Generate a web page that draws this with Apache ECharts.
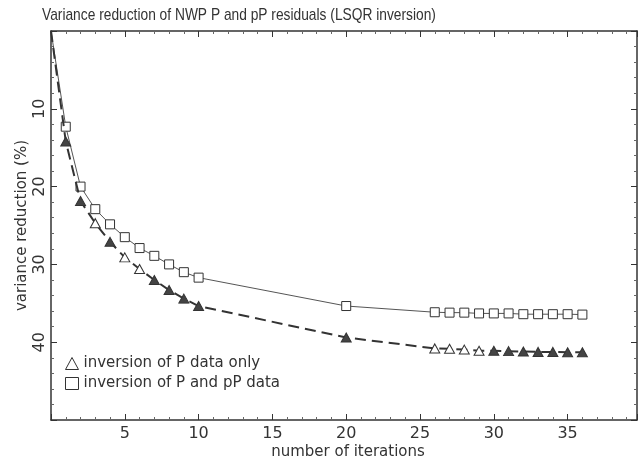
<!DOCTYPE html>
<html>
<head>
<meta charset="utf-8">
<script src="https://cdn.jsdelivr.net/npm/echarts@6/dist/echarts.min.js"></script>
<style>
html,body{margin:0;padding:0;background:#fff;}
#chart{width:638px;height:461px;}
</style>
</head>
<body>
<div id="chart"></div>
<script>
// ---- data ----
const iterations = [0, 1, 2, 3, 4, 5, 6, 7, 8, 9, 10, 20, 26, 27, 28, 29, 30, 31, 32, 33, 34, 35, 36];
const pOnly   = [0, 14.2, 21.85, 24.7, 27.1, 29.1, 30.6, 32.0, 33.3, 34.4, 35.35, 39.4, 40.8, 40.85, 40.95, 41.1, 41.1, 41.15, 41.2, 41.25, 41.25, 41.3, 41.3];
const pAndPP  = [0, 12.3, 20.0, 22.9, 24.85, 26.5, 27.9, 28.9, 30.0, 31.0, 31.7, 35.35, 36.15, 36.2, 36.2, 36.3, 36.3, 36.3, 36.4, 36.4, 36.4, 36.4, 36.45];
// triangles that look filled-in (scan artefact) in the reference
const darkTriangles = [1, 2, 4, 7, 8, 9, 10, 20, 30, 31, 32, 33, 34, 35, 36];
const seriesNames = ['inversion of P data only', 'inversion of P and pP data'];
const titleText = 'Variance reduction of NWP P and pP residuals (LSQR inversion)';
const xName = 'number of iterations';
const yName = 'variance reduction (%)';

const ink = '#333';
const font = 'DejaVu Sans, Verdana, sans-serif';
const titleFont = 'Liberation Sans, Arial, Helvetica, sans-serif';

function triData() {
  return iterations.map((x, i) => {
    const d = {value: [x, pOnly[i]]};
    if (i === 0) d.symbol = 'none';
    else if (darkTriangles.indexOf(x) >= 0) d.itemStyle = {color: '#444'};
    return d;
  });
}
function sqData() {
  return iterations.map((x, i) => {
    const d = {value: [x, pAndPP[i]]};
    if (i === 0) d.symbol = 'none';
    return d;
  });
}

const chart = echarts.init(document.getElementById('chart'), null, {renderer: 'canvas'});
const axisLine = {show: true, onZero: false, lineStyle: {color: ink, width: 1.5}};
const tick = {show: true, inside: true, length: 6, lineStyle: {color: ink}};
const minor = {show: true, splitNumber: 5, length: 3, lineStyle: {color: '#666'}};
chart.setOption({
  animation: false,
  backgroundColor: '#fff',
  textStyle: {fontFamily: font, color: ink},
  graphic: [{
    type: 'text', x: 42, y: 15, scaleX: 0.81, scaleY: 1,
    style: {text: titleText, fontFamily: titleFont, fontSize: 17, fill: ink,
            textAlign: 'left', textVerticalAlign: 'middle'}
  }],
  legend: {
    orient: 'vertical', left: 60, top: 351, itemGap: 5,
    itemWidth: 13, itemHeight: 12,
    textStyle: {fontFamily: font, fontSize: 15, color: ink},
    itemStyle: {color: '#fff', borderColor: ink, borderWidth: 1},
    lineStyle: {width: 0},
    data: [
      {name: seriesNames[0], icon: 'triangle'},
      {name: seriesNames[1], icon: 'rect'}
    ]
  },
  grid: {left: 51, top: 31, right: 1, bottom: 41, show: false, outerBoundsMode: 'none', containLabel: false},
  xAxis: [{
    type: 'value', min: 0, max: 39.7, interval: 5,
    name: xName, nameLocation: 'middle', nameGap: 25, nameMoveOverlap: false,
    nameTextStyle: {fontFamily: font, fontSize: 15, color: ink, padding: [0, 0, 0, 8]},
    axisLine: axisLine, axisTick: tick, minorTick: minor,
    axisLabel: {showMinLabel: false, showMaxLabel: false, fontSize: 16, color: ink, margin: 6, fontFamily: font},
    splitLine: {show: false}
  }, {
    type: 'value', position: 'top', min: 0, max: 39.7, interval: 5,
    axisLine: axisLine, axisTick: tick, minorTick: minor,
    axisLabel: {show: false}, splitLine: {show: false}
  }],
  yAxis: [{
    type: 'value', min: 0, max: 50, interval: 10, inverse: true,
    name: yName, nameLocation: 'middle', nameGap: 21, nameRotate: 90, nameMoveOverlap: false,
    nameTextStyle: {fontFamily: font, fontSize: 15, color: ink},
    axisLine: axisLine, axisTick: tick, minorTick: minor,
    axisLabel: {showMinLabel: false, showMaxLabel: false, rotate: 90, fontSize: 16, color: ink, margin: 3, fontFamily: font},
    splitLine: {show: false}
  }, {
    type: 'value', position: 'right', min: 0, max: 50, interval: 10, inverse: true,
    axisLine: axisLine, axisTick: tick, minorTick: minor,
    axisLabel: {show: false}, splitLine: {show: false}
  }],
  series: [{
    name: seriesNames[0], type: 'line', data: triData(),
    symbol: 'triangle', symbolSize: [10, 9],
    lineStyle: {color: '#333', width: 2, type: [11, 6]},
    itemStyle: {color: '#fff', borderColor: '#333', borderWidth: 1},
    z: 3
  }, {
    name: seriesNames[1], type: 'line', data: sqData(),
    symbol: 'rect', symbolSize: 9,
    lineStyle: {color: '#555', width: 1},
    itemStyle: {color: '#fff', borderColor: '#333', borderWidth: 1},
    z: 2
  }]
});
</script>
</body>
</html>
